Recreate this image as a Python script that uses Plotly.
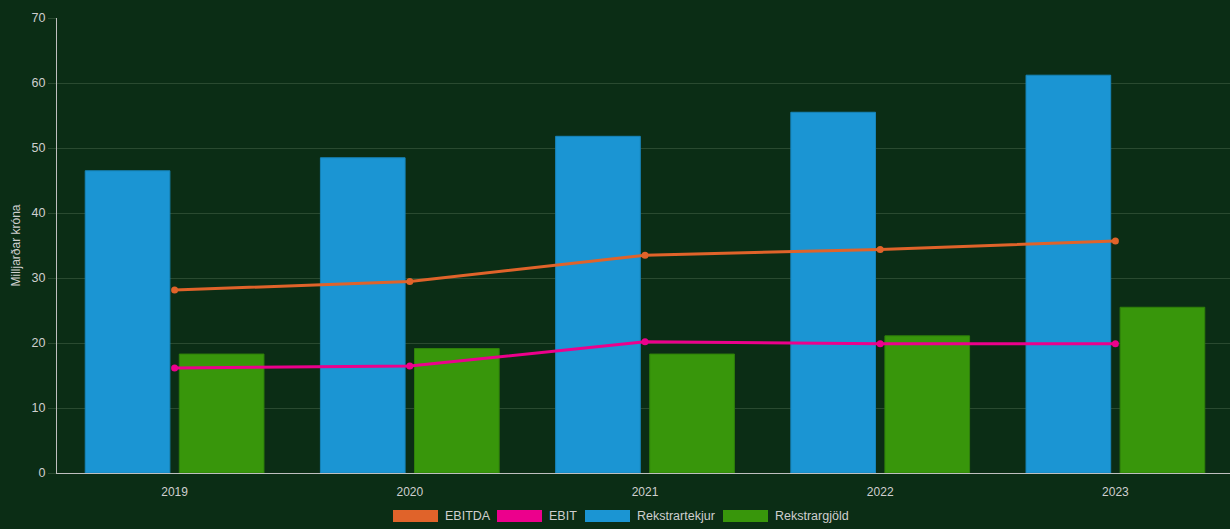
import plotly.graph_objects as go

years = ["2019", "2020", "2021", "2022", "2023"]
rekstrartekjur = [46.5, 48.5, 51.8, 55.5, 61.2]
rekstrargjold = [18.3, 19.15, 18.3, 21.1, 25.5]
ebitda = [28.15, 29.45, 33.5, 34.4, 35.7]
ebit = [16.15, 16.45, 20.2, 19.9, 19.9]

legend_names = ["EBITDA", "EBIT", "Rekstrartekjur", "Rekstrargjöld"]

BG = "#0b2d15"
BLUE = "#1b95d3"
GREEN = "#38960b"
ORANGE = "#e0632a"
PINK = "#ec008c"
GRID = "#2a4a30"
TXT = "#cfcfcf"
FONT = "Liberation Sans, Arial, sans-serif"

fig = go.Figure()
fig.add_trace(go.Bar(x=years, y=rekstrartekjur, name="Rekstrartekjur",
                     marker=dict(color=BLUE, line=dict(color="#1784b9", width=1))))
fig.add_trace(go.Bar(x=years, y=rekstrargjold, name="Rekstrargjöld",
                     marker=dict(color=GREEN, line=dict(color="#2f800a", width=1))))
fig.add_trace(go.Scatter(x=years, y=ebitda, name="EBITDA", mode="lines+markers",
                         line=dict(color=ORANGE, width=3), marker=dict(size=7, color=ORANGE)))
fig.add_trace(go.Scatter(x=years, y=ebit, name="EBIT", mode="lines+markers",
                         line=dict(color=PINK, width=3), marker=dict(size=7, color=PINK)))

W, H = 1233, 529
L, R, T, B = 57, 0, 18, 56
pw, ph = W - L - R, H - T - B

def px(x):
    return (x - L) / pw

def py(y):
    return (H - B - y) / ph

# custom legend (Chart.js style boxes)
leg_colors = [ORANGE, PINK, BLUE, GREEN]
box_x = [393, 497, 585, 723]
for name, col, bx in zip(legend_names, leg_colors, box_x):
    fig.add_shape(type="rect", xref="paper", yref="paper",
                  x0=px(bx), x1=px(bx + 45), y0=py(522), y1=py(510),
                  fillcolor=col, line=dict(width=0))
    fig.add_annotation(xref="paper", yref="paper", x=px(bx + 50), y=py(516),
                       text=name, showarrow=False, xanchor="left", yanchor="middle",
                       font=dict(family=FONT, size=12.5, color=TXT))

fig.update_layout(
    width=W, height=H,
    margin=dict(l=L, r=R, t=T, b=B),
    paper_bgcolor=BG, plot_bgcolor=BG,
    barmode="group", bargap=0.2, bargroupgap=0.1,
    showlegend=False,
    font=dict(family=FONT, size=12, color=TXT),
    xaxis=dict(showgrid=False, showline=True, linecolor="#bfbfbf", linewidth=1,
               ticks="", tickfont=dict(size=12, color=TXT), ticklabelstandoff=8),
    yaxis=dict(range=[0, 70], dtick=10, showgrid=True, gridcolor=GRID, gridwidth=1,
               showline=True, linecolor="#bfbfbf", linewidth=1, zeroline=False,
               ticks="outside", ticklen=8, tickcolor=GRID,
               tickfont=dict(size=12.5, color=TXT),
               title=dict(text="Milljarðar króna", standoff=8,
                          font=dict(size=12, color=TXT))),
)

fig.write_html("out.html", config={"displayModeBar": False},
               post_script="document.body.style.margin='0';document.body.style.overflow='hidden';"
                           "document.body.style.background='%s';" % BG)
